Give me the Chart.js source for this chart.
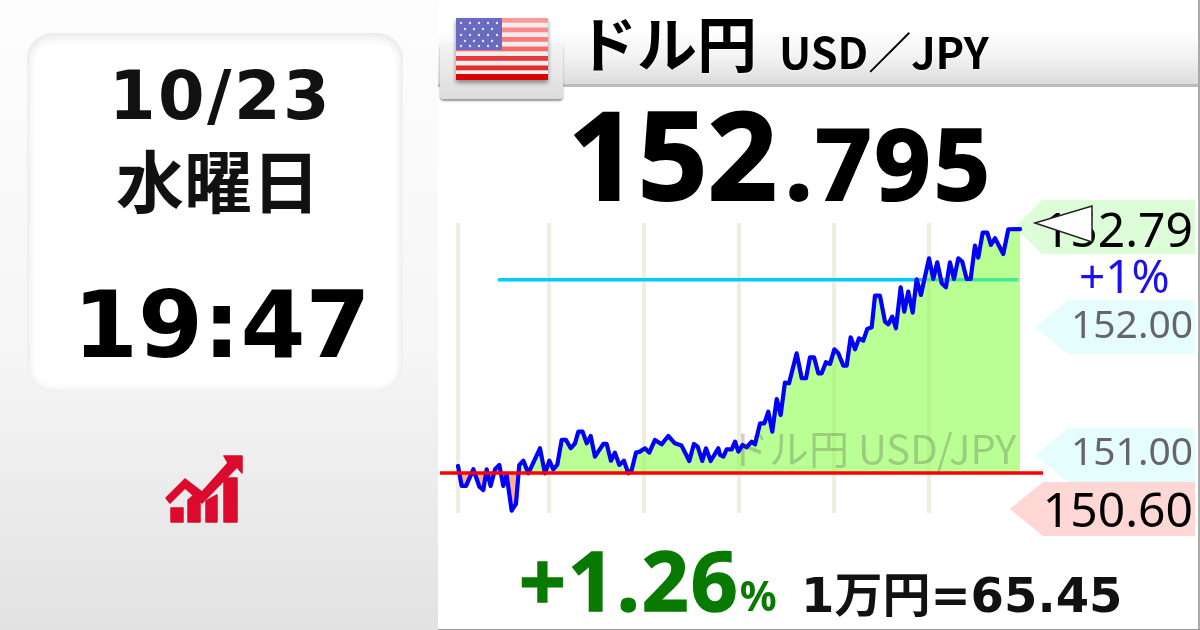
<!DOCTYPE html>
<html lang="ja">
<head>
<meta charset="utf-8">
<title>ドル円 USD/JPY</title>
<script src="https://cdn.jsdelivr.net/npm/chart.js@4/dist/chart.umd.js"></script>
<style>
html, body { margin: 0; padding: 0; }
body { width: 1200px; height: 630px; position: relative; overflow: hidden; background: #fff; font-family: "DejaVu Sans", "Noto Sans CJK JP", sans-serif; }
.abs { position: absolute; white-space: nowrap; line-height: 1; filter: blur(.35px); }
#side { position: absolute; left: 0; top: 0; width: 438px; height: 630px; background: linear-gradient(#fdfdfd, #f6f6f6 55%, #e2e2e2); }
#card { position: absolute; left: 27px; top: 33px; width: 376px; height: 359px; border-radius: 26px; background: #fff; box-shadow: inset 0 8px 12px -4px #e6e6e6, inset 6px 0 8px -4px #ececec, inset -6px 0 8px -4px #ececec, inset 0 -6px 8px -4px #ececec; }
#band { position: absolute; left: 438px; top: 0; width: 762px; height: 87px; background: linear-gradient(#fff 35%, #f4f4f4 65%, #dcdcdc); border-bottom: 3px solid #bbb; box-sizing: border-box; }
#tab { position: absolute; left: 440px; top: 43px; width: 123px; height: 56px; border-radius: 4px; background: linear-gradient(#f4f4f4, #dcdcdc); box-shadow: 0 2px 2px #999; }
.tag { position: absolute; left: 1000px; width: 195px; height: 54px; }
.num { font-family: "Noto Sans", sans-serif; font-size: 39px; right: 7px; }
.big { font-size: 48px; }
.rnd { font-family: "Noto Sans", sans-serif; font-weight: 700; }
.jp { font-family: "Noto Sans CJK JP", sans-serif; font-weight: 700; }
#chart { position: absolute; left: 440px; top: 223px; filter: blur(.4px); }
#rightline { position: absolute; left: 1198px; top: 0; width: 2px; height: 630px; background: #aaa; }
#bottomline { position: absolute; left: 438px; top: 629px; width: 762px; height: 1px; background: #999; }
</style>
</head>
<body>
<div id="side"></div>
<div id="card"></div>
<div id="band"></div>
<div id="tab"></div>

<svg class="abs" style="left:456px;top:18px;filter:drop-shadow(0 3px 2px #888)" width="92" height="62" viewBox="0 0 92 62">
  <rect width="92" height="62" fill="#eeeeee"/>
  <rect y="0" width="92" height="4.8" fill="#ff9a9a"/><rect y="9.5" width="92" height="4.8" fill="#ff8a8a"/><rect y="19" width="92" height="4.8" fill="#fb7a7a"/><rect y="28.5" width="92" height="4.8" fill="#f66a6a"/><rect y="38" width="92" height="4.8" fill="#e83a3a"/><rect y="47.5" width="92" height="4.8" fill="#e42a2a"/><rect y="56" width="92" height="6" fill="#d80000"/>
  <rect width="46" height="32" fill="#6a6ac0"/>
  <g fill="#e8e8f8"><circle cx="5" cy="5" r="1.2"/><circle cx="14" cy="5" r="1.2"/><circle cx="23" cy="5" r="1.2"/><circle cx="32" cy="5" r="1.2"/><circle cx="41" cy="5" r="1.2"/><circle cx="9" cy="11" r="1.2"/><circle cx="18" cy="11" r="1.2"/><circle cx="27" cy="11" r="1.2"/><circle cx="36" cy="11" r="1.2"/><circle cx="5" cy="17" r="1.2"/><circle cx="14" cy="17" r="1.2"/><circle cx="23" cy="17" r="1.2"/><circle cx="32" cy="17" r="1.2"/><circle cx="41" cy="17" r="1.2"/><circle cx="9" cy="23" r="1.2"/><circle cx="18" cy="23" r="1.2"/><circle cx="27" cy="23" r="1.2"/><circle cx="36" cy="23" r="1.2"/><circle cx="5" cy="28" r="1.2"/><circle cx="14" cy="28" r="1.2"/><circle cx="23" cy="28" r="1.2"/><circle cx="32" cy="28" r="1.2"/><circle cx="41" cy="28" r="1.2"/></g>
</svg>

<div class="abs" id="date" style="left:109px;top:63px;font-size:67px;font-weight:700;letter-spacing:2.4px;color:#111">10/23</div>
<div class="abs jp" id="week" style="left:116px;top:145px;font-size:68px;color:#111">水曜日</div>
<div class="abs" id="clock" style="left:73px;top:278px;font-size:93.5px;font-weight:700;color:#000">19:47</div>

<svg class="abs" style="left:165px;top:454px" width="82" height="70" viewBox="0 0 82 70">
  <g fill="#dc0a2d" stroke="#dc0a2d" stroke-width="1.5" stroke-linejoin="round">
    <rect x="6" y="54" width="12" height="14"/>
    <polygon points="23,68 23,46 29,41 35,46 35,68"/>
    <polygon points="41,68 41,47 52,41 52,68"/>
    <rect x="59" y="24" width="13" height="44"/>
    <polygon points="1,44 20,25 37,38 63,9 59,2 77,2 77,19 72,13 37,49 20,34 5,49"/>
  </g>
</svg>

<div class="abs jp" id="title" style="left:577px;top:11px;font-size:60px;color:#000;text-shadow:0 0 3px #fff">ドル円</div>
<div class="abs jp" id="pair" style="left:779px;top:29px;font-size:43px;color:#000;text-shadow:0 0 3px #fff">USD／JPY</div>

<div class="abs rnd" id="bigint" style="left:568px;top:92px;font-size:122px;color:#000;-webkit-text-stroke:2px #000">152</div>
<div class="abs rnd" id="bigdec" style="left:785px;top:113px;font-size:98px;letter-spacing:3px;color:#000;-webkit-text-stroke:2px #000">.795</div>

<div class="tag" style="top:200px;clip-path:polygon(7.7% 50%,21.5% 0,100% 0,100% 100%,21.5% 100%);background:#ddfcd8"></div>
<div class="tag" style="top:300px;clip-path:polygon(17.9% 50%,35% 0,100% 0,100% 100%,35% 100%);background:#e6fdfd"></div>
<div class="tag" style="top:428px;clip-path:polygon(17.9% 50%,35% 0,100% 0,100% 100%,35% 100%);background:#e6fdfd"></div>
<div class="tag" style="top:482px;clip-path:polygon(5% 50%,22% 0,100% 0,100% 100%,22% 100%);background:#ffd8d6"></div>

<canvas id="chart" width="603" height="290"></canvas>

<div class="abs" id="mark" style="left:729px;top:427px;font-family:'Noto Sans CJK JP',sans-serif;font-size:40px;color:rgba(60,60,60,.25)">ドル円 USD/JPY</div>

<div class="abs num big" style="top:205px;color:#000">152.79</div>
<div class="abs" style="left:1079px;top:252px;font-family:'Noto Sans',sans-serif;font-size:46px;color:#1c10f0">+1%</div>
<div class="abs num" style="top:303px;color:#666">152.00</div>
<div class="abs num" style="top:430px;color:#666">151.00</div>
<div class="abs num big" style="top:485px;color:#000">150.60</div>

<svg class="abs" style="left:1030px;top:203px" width="66" height="44" viewBox="0 0 66 44">
  <polygon points="5,20 62,3 62,39" fill="#fff" stroke="#222" stroke-width="1.5"/>
</svg>

<div class="abs rnd" id="chg" style="left:519px;top:538px;font-size:82px;letter-spacing:2px;color:#087a00;-webkit-text-stroke:1.5px #087a00">+1.26<span style="font-size:41px;letter-spacing:0;-webkit-text-stroke:0">%</span></div>
<div class="abs" id="rate" style="left:801px;top:571px;font-size:48px;font-weight:700;color:#111">1万円=65.45</div>

<div id="rightline"></div>
<div id="bottomline"></div>

<script>
// minutes from the first gridline
const times = [0, 2.3, 5.1, 9.7, 13.5, 16, 18.1, 20.6, 23.4, 26.1, 28.6, 30.7, 33.9, 36.6, 38.7, 41.3, 44.4, 51.8, 54.9, 57.7,
  60.2, 62.7, 65.5, 68.2, 71.2, 73.9, 76, 78.7, 81.3, 83.8, 86.5, 91.8, 93.9, 96.6, 99.1, 101.9, 104.8, 107.6, 109.7, 112.4,
  114.9, 118.1, 120.8, 124.4, 128.6, 132.8, 137, 141.2, 146.1, 149, 151.4, 154.3, 156.6, 159.6, 164.4,
  165.5, 167.6, 169.7, 172.9, 175, 177.1, 179.8, 182.3, 185.5, 187.6, 190.8, 193.5, 196, 198.5, 201.3, 203.8, 206.5, 209.1,
  213.9, 217.1, 219.8, 222.3, 224.9, 227.6, 229.7, 232.4, 235, 237.7, 240.2, 243.4, 245.5, 248, 250.8, 253.3, 256, 258.5,
  261.3, 263.4, 266.5, 269.7, 271.8, 274.3, 276.6, 279.6, 281.9, 284.4, 287.2, 289.7, 292.4, 297.5, 300.2, 302.7, 305.5,
  308.2, 310.7, 313.3, 316, 318.5, 321.3, 323.8, 326.5, 328.6, 331.4, 334.3, 336.6, 339.2, 344.4, 347.6, 355];
const prices = [150.945, 150.789, 150.789, 150.919, 150.783, 150.757, 150.919, 150.789, 150.919, 150.953, 150.789, 150.875, 150.596, 150.648, 150.953, 150.986, 150.887, 151.083, 150.887, 150.986,
  150.919, 150.953, 151.148, 151.148, 151.083, 151.122, 151.213, 151.213, 151.122, 151.179, 151.018, 151.117, 151.117, 150.986, 151.049, 150.953, 150.986, 150.887, 150.914, 151.049,
  151.057, 151.083, 151.049, 151.148, 151.114, 151.179, 151.122, 151.104, 150.984, 151.117, 151.096, 150.984, 151.083, 150.984, 151.083,
  151.031, 151.018, 151.075, 151.075, 151.135, 151.057, 151.109, 151.091, 151.135, 151.114, 151.278, 151.278, 151.369, 151.213, 151.468, 151.343, 151.596, 151.591,
  151.825, 151.630, 151.630, 151.794, 151.794, 151.669, 151.669, 151.755, 151.742, 151.856, 151.825, 151.729, 151.729, 151.950, 151.856, 151.942, 151.924, 152.015,
  152.028, 152.276, 152.276, 152.073, 152.052, 152.112, 152.021, 152.341, 152.151, 152.307, 152.143, 152.403, 152.281, 152.567, 152.406, 152.536, 152.372,
  152.341, 152.536, 152.406, 152.567, 152.541, 152.406, 152.406, 152.666, 152.573, 152.768, 152.768, 152.672, 152.724, 152.601, 152.794, 152.795];
const gridTimes = [0, 57.5, 117.5, 177.5, 237.5, 297.5];
const prevClose = 150.89;
const plusOne = 152.40;

const series = times.map((t, i) => ({ x: t, y: prices[i] }));

new Chart(document.getElementById("chart"), {
  type: "line",
  data: {
    datasets: [
      {
        data: [{ x: 25.3, y: plusOne }, { x: 354, y: plusOne }],
        borderColor: "#00ccff",
        borderWidth: 3.5,
        pointRadius: 0,
        order: 3
      },
      {
        data: series,
        borderColor: "#0000ff",
        borderWidth: 4.2,
        borderJoinStyle: "round",
        borderCapStyle: "round",
        pointRadius: 0,
        tension: 0,
        fill: { target: { value: prevClose }, above: "rgba(130,255,60,.55)", below: "rgba(255,110,50,.55)" },
        order: 2
      },
      {
        data: [{ x: -11.4, y: prevClose }, { x: 369.5, y: prevClose }],
        borderColor: "#ff0000",
        borderWidth: 3.6,
        pointRadius: 0,
        order: 1
      }
    ]
  },
  options: {
    responsive: false,
    animation: false,
    layout: { padding: 0 },
    plugins: { legend: { display: false }, tooltip: { enabled: false } },
    scales: {
      x: {
        type: "linear",
        min: -11.37,
        max: 369.5,
        border: { display: false },
        ticks: { display: false },
        afterBuildTicks: axis => { axis.ticks = gridTimes.map(v => ({ value: v })); },
        grid: { color: "#efefe0", lineWidth: 4, drawTicks: false }
      },
      y: { display: false, min: 150.5775, max: 152.843 }
    }
  }
});
</script>
</body>
</html>
